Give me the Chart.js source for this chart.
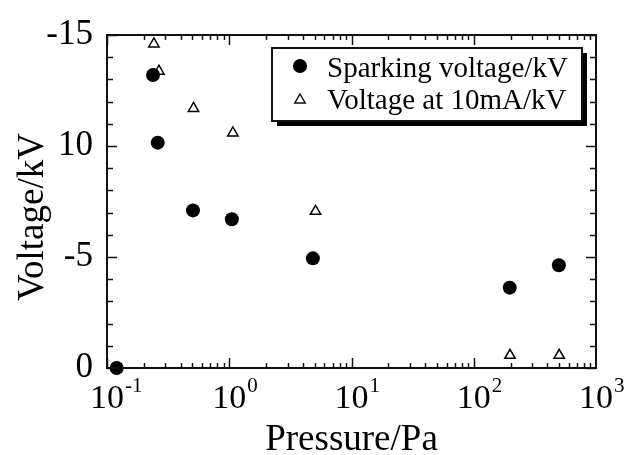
<!DOCTYPE html>
<html>
<head>
<meta charset="utf-8">
<script src="https://cdn.jsdelivr.net/npm/chart.js@4"></script>
<style>
  body { margin: 0; background: #fff; }
  canvas { display: block; }
</style>
</head>
<body>
<canvas id="chart" width="629" height="455"></canvas>
<script>
// values
const sparkPressure = [0.12, 0.238, 0.26, 0.505, 1.05, 4.83, 197, 497];
const sparkVoltage  = [0, 13.2, 10.15, 7.1, 6.7, 4.94, 3.62, 4.63];
const mAPressure = [0.242, 0.266, 0.51, 1.07, 5.08, 198, 500];
const mAVoltage  = [14.6, 13.37, 11.69, 10.59, 7.06, 0.57, 0.57];

const yTickValues = [0, 5, 10, 15];
const yTickText   = ["0", "-5", "10", "-15"];
const xTickValues = [0.1, 1, 10, 100, 1000];
const xTickExp    = ["-1", "0", "1", "2", "3"];

const seriesNames = ["Sparking voltage/kV", "Voltage at 10mA/kV"];

const FONT = "Liberation Serif";
Chart.defaults.font.family = FONT;

const toPts = (xs, ys) => xs.map((x, i) => ({ x: x, y: ys[i] }));

// frame, inside ticks, x labels, titles and the boxed legend
const decor = {
  id: "decor",
  afterDraw(chart) {
    const c = chart.ctx, a = chart.chartArea;
    const xs = chart.scales.x, ys = chart.scales.y;
    c.save();
    c.strokeStyle = "#111";
    c.lineWidth = 2;
    c.strokeRect(a.left, a.top, a.right - a.left, a.bottom - a.top);

    c.lineWidth = 1.5;
    c.beginPath();
    for (let v = 0; v <= 15; v++) {
      const y = Math.round(ys.getPixelForValue(v)) + 0.5;
      const len = v % 5 === 0 ? 10 : 6;
      c.moveTo(a.left, y); c.lineTo(a.left + len, y);
      c.moveTo(a.right, y); c.lineTo(a.right - len, y);
    }
    for (let d = 0.1; d < 1000; d *= 10) {
      for (let m = 1; m <= 9; m++) {
        const x = Math.round(xs.getPixelForValue(m * d)) + 0.5;
        const len = m === 1 ? 10 : 5;
        c.moveTo(x, a.bottom); c.lineTo(x, a.bottom - len);
        c.moveTo(x, a.top); c.lineTo(x, a.top + len);
      }
    }
    c.stroke();

    // x tick labels 10^n
    c.fillStyle = "#000";
    c.textBaseline = "alphabetic";
    xTickValues.forEach((v, i) => {
      const x = xs.getPixelForValue(v);
      c.font = "34px '" + FONT + "'";
      const w = c.measureText("10").width;
      c.textAlign = "left";
      c.fillText("10", x - w / 2, 408);
      c.font = "21px '" + FONT + "'";
      c.fillText(xTickExp[i], x + w / 2 + 1, 392);
    });

    // axis titles
    c.font = "37px '" + FONT + "'";
    c.textAlign = "center";
    c.fillText("Pressure/Pa", (a.left + a.right) / 2, 450);
    c.save();
    c.translate(43, 217);
    c.rotate(-Math.PI / 2);
    c.fillText("Voltage/kV", 0, 0);
    c.restore();

    // legend box with drop shadow
    const bx = 272, by = 48, bw = 310, bh = 73;
    c.fillStyle = "#000";
    c.fillRect(bx + 5, by + 5, bw, bh);
    c.fillStyle = "#fff";
    c.fillRect(bx, by, bw, bh);
    c.lineWidth = 2;
    c.strokeStyle = "#111";
    c.strokeRect(bx, by, bw, bh);

    c.fillStyle = "#000";
    c.beginPath();
    c.arc(300, 66, 7, 0, Math.PI * 2);
    c.fill();

    const r = 6, tx = 300, ty = 100;
    c.beginPath();
    c.moveTo(tx, ty - r);
    c.lineTo(tx + r * 0.866, ty + r * 0.5);
    c.lineTo(tx - r * 0.866, ty + r * 0.5);
    c.closePath();
    c.fillStyle = "#fff";
    c.fill();
    c.lineWidth = 1.5;
    c.stroke();

    c.fillStyle = "#000";
    c.font = "29px '" + FONT + "'";
    c.textAlign = "left";
    c.fillText(seriesNames[0], 327, 77);
    c.fillText(seriesNames[1], 327, 109);
    c.restore();
  }
};

new Chart(document.getElementById("chart").getContext("2d"), {
  type: "scatter",
  data: {
    datasets: [
      { label: seriesNames[0], data: toPts(sparkPressure, sparkVoltage),
        pointStyle: "circle", pointRadius: 7, backgroundColor: "#000", borderColor: "#000",
        borderWidth: 0, clip: false },
      { label: seriesNames[1], data: toPts(mAPressure, mAVoltage),
        pointStyle: "triangle", pointRadius: 6, backgroundColor: "#fff", borderColor: "#000",
        borderWidth: 1.5, clip: false }
    ]
  },
  options: {
    responsive: false,
    animation: false,
    layout: { padding: { left: 0, right: 33, top: 28, bottom: 0 } },
    plugins: { legend: { display: false }, tooltip: { enabled: false } },
    scales: {
      x: {
        type: "logarithmic", min: 0.1, max: 1000,
        ticks: { display: false },
        grid: { display: false },
        border: { display: false },
        afterFit: s => { s.height = 87; }
      },
      y: {
        min: 0, max: 15,
        ticks: {
          stepSize: 5, padding: 14, color: "#000",
          font: { family: FONT, size: 35 },
          callback: v => { const i = yTickValues.indexOf(v); return i < 0 ? "" : yTickText[i]; }
        },
        grid: { display: false, drawTicks: false },
        border: { display: false },
        afterFit: s => { s.width = 107; }
      }
    }
  },
  plugins: [decor]
});
</script>
</body>
</html>
